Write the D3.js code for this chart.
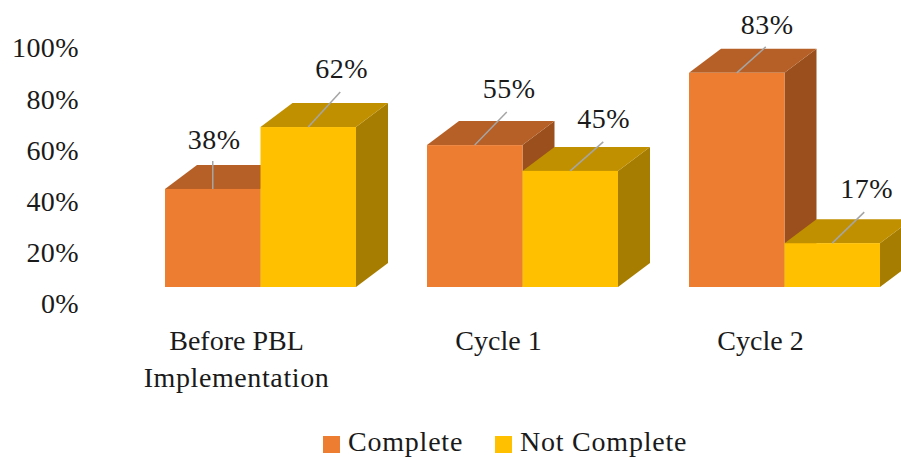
<!DOCTYPE html>
<html>
<head>
<meta charset="utf-8">
<script src="https://d3js.org/d3.v7.min.js"></script>
<style>
  html, body { margin: 0; padding: 0; background: #fff; }
  svg { display: block; }
  text { font-family: "Liberation Serif", serif; fill: #1a1a1a; }
</style>
</head>
<body>
<div id="chart"></div>
<script>
const categories = ["Before PBL Implementation", "Cycle 1", "Cycle 2"];
const seriesNames = ["Complete", "Not Complete"];
const completeValues = [38, 55, 83];
const notCompleteValues = [62, 45, 17];
const yTicks = [0, 20, 40, 60, 80, 100];

const width = 901, height = 457;
const FONT_SIZE = 28;
const DEPTH_X = 32, DEPTH_Y = 24;

const front = ["#ed7d31", "#ffc000"];
const top_ = ["#b65f26", "#c09000"];
const side = ["#9a4f1d", "#a67d00"];

// label offsets from the top-front centre of each bar, by series then category
const leaderEnd = [
  [[0, -28], [32, -33], [29, -26]],
  [[32, -35], [33, -29], [32, -31]]
];
const labelGap = [
  [[1.5, -12], [2.5, -14], [1.5, -13]],
  [[1.5, -14], [0.5, -14], [2.5, -14]]
];

const svg = d3.select("#chart").append("svg")
  .attr("width", width)
  .attr("height", height);

const x0 = d3.scaleBand()
  .domain(categories)
  .range([129.5, 915.5])
  .paddingInner(0.271)
  .paddingOuter(0.1355);

const x1 = d3.scaleBand()
  .domain(seriesNames)
  .range([0, x0.bandwidth()]);

// bars sit on the front plane
const y = d3.scaleLinear().domain([0, 100]).range([287, 29]);
// the axis labels run on their own slightly lower scale
const yAxisScale = d3.scaleLinear().domain([0, 100]).range([304, 48]);

const axis = d3.axisLeft(yAxisScale)
  .tickValues(yTicks)
  .tickSize(0)
  .tickPadding(0)
  .tickFormat(d => d + "%");

const axisG = svg.append("g")
  .attr("transform", "translate(79,0)")
  .call(axis);
axisG.select(".domain").remove();
axisG.selectAll("text")
  .attr("font-size", FONT_SIZE)
  .attr("letter-spacing", 0.4)
  .style("font-family", '"Liberation Serif", serif')
  .attr("fill", "#1a1a1a");

const allValues = [completeValues, notCompleteValues];

// bars, one group at a time so the right bar overlaps the left
categories.forEach((cat, c) => {
  seriesNames.forEach((name, s) => {
    const v = allValues[s][c];
    const xl = x0(cat) + x1(name);
    const xr = xl + x1.bandwidth();
    const yt = y(v), yb = y(0);
    const g = svg.append("g");

    g.append("path")
      .attr("d", `M${xr},${yt}L${xr + DEPTH_X},${yt - DEPTH_Y}L${xr + DEPTH_X},${yb - DEPTH_Y}L${xr},${yb}Z`)
      .attr("fill", side[s]);
    g.append("path")
      .attr("d", `M${xl},${yt}L${xl + DEPTH_X},${yt - DEPTH_Y}L${xr + DEPTH_X},${yt - DEPTH_Y}L${xr},${yt}Z`)
      .attr("fill", top_[s]);
    g.append("rect")
      .attr("x", xl)
      .attr("y", yt)
      .attr("width", x1.bandwidth())
      .attr("height", yb - yt)
      .attr("fill", front[s]);
  });
});

// leader lines and value labels on top of all bars
categories.forEach((cat, c) => {
  seriesNames.forEach((name, s) => {
    const v = allValues[s][c];
    const cx = x0(cat) + x1(name) + x1.bandwidth() / 2;
    const yt = y(v);
    const [dx, dy] = leaderEnd[s][c];
    const [lx, ly] = labelGap[s][c];

    svg.append("line")
      .attr("x1", cx)
      .attr("y1", yt)
      .attr("x2", cx + dx)
      .attr("y2", yt + dy)
      .attr("stroke", "#a5a5a5")
      .attr("stroke-width", 1.5);

    svg.append("text")
      .attr("x", cx + dx + lx)
      .attr("y", yt + dy + ly)
      .attr("text-anchor", "middle")
      .attr("font-size", FONT_SIZE)
      .attr("letter-spacing", 0.5)
      .text(v + "%");
  });
});

// category labels
const categoryLines = [["Before PBL", "Implementation"], ["Cycle 1"], ["Cycle 2"]];
categories.forEach((cat, c) => {
  const cx = x0(cat) + x0.bandwidth() / 2 - 24;
  categoryLines[c].forEach((line, i) => {
    svg.append("text")
      .attr("x", cx)
      .attr("y", 350 + i * 37)
      .attr("text-anchor", "middle")
      .attr("font-size", FONT_SIZE)
      .attr("letter-spacing", line === "Implementation" ? 0.6 : 0)
      .text(line);
  });
});

// legend
const legendX = [323, 495];
seriesNames.forEach((name, s) => {
  svg.append("rect")
    .attr("x", legendX[s])
    .attr("y", 436)
    .attr("width", 17)
    .attr("height", 17)
    .attr("fill", front[s]);
  svg.append("text")
    .attr("x", legendX[s] + 25)
    .attr("y", 451)
    .attr("font-size", FONT_SIZE)
    .attr("letter-spacing", 0.78)
    .text(name);
});
</script>
</body>
</html>
